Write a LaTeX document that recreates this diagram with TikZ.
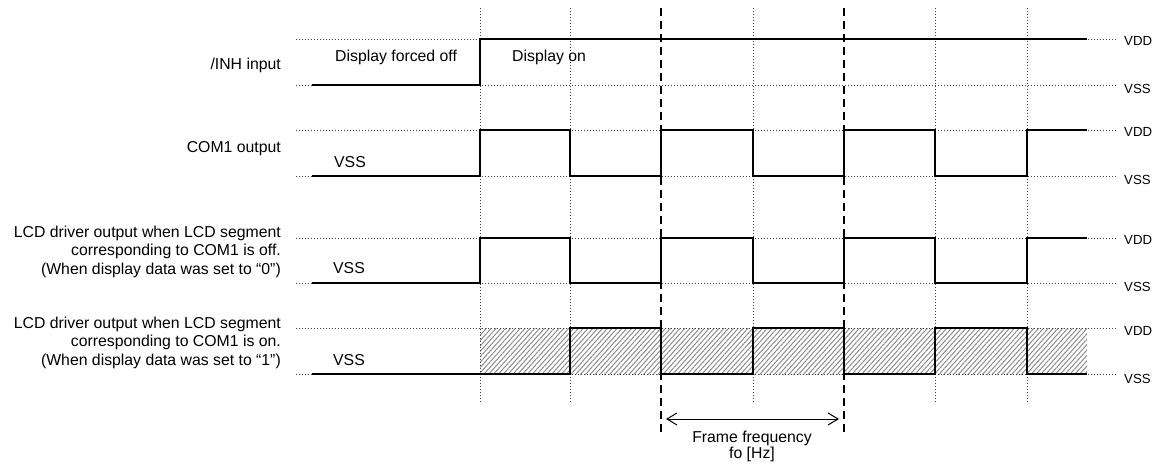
\documentclass[tikz,border=0pt]{standalone}
\usepackage{fontspec}
\setmainfont{Liberation Sans}
\usetikzlibrary{positioning, patterns.meta, arrows.meta}

\begin{document}
\begin{tikzpicture}[x=1pt, y=-1pt,
        grid/.style={line width=0.8pt, black!75, dash pattern=on 1pt off 2pt},
        frame/.style={line width=1.5pt, dash pattern=on 8pt off 5pt},
        wave/.style={line width=1.8pt, line join=miter},
        lbl/.style={inner sep=0pt, align=right, font=\fontsize{15.8}{18.5}\selectfont},
        txt/.style={inner sep=0pt, anchor=base west, font=\fontsize{15.8}{18.5}\selectfont},
        lvl/.style={inner sep=0pt, anchor=base west, font=\fontsize{13.2}{15}\selectfont}]
        \useasboundingbox (0,0) rectangle (1160,465);

        % Hatched area
        \fill[pattern={Lines[angle=48, distance=3.6pt, line width=1pt]}, pattern color=black!45]
                (480,328) rectangle (1087,374);

        % Levels
        \foreach \hi/\lo in {39/85, 130/176, 238/283, 328/374} {
                \draw[grid] (296,\hi) -- (1117,\hi);
                \draw[grid] (296,\lo) -- (1117,\lo);
                \node[lvl] (vdd\hi) at (1124,\hi+7) {VDD};
                \node[lvl] (vss\lo) at (1124,\lo+9) {VSS};
        }

        % Time marks
        \foreach \t in {480, 570, 753, 935, 1027}
                \draw[grid] (\t,8) -- (\t,402);
        \foreach \t in {661, 844}
                \draw[frame] (\t,8) -- (\t,435);

        % Waves
        \draw[wave] (312,85) -| (480,39) -- (1087,39);
        \foreach \y/\Y in {130/176, 238/283}
                \draw[wave] (312,\Y) -| (480,\y) -| (570,\Y) -| (661,\y) -| (753,\Y) -| (844,\y) -| (935,\Y) -| (1027,\y) -- (1087,\y);
        \draw[wave] (312,374) -| (570,328) -| (661,374) -| (753,328) -| (844,374) -| (935,328) -| (1027,374) -- (1087,374);

        % Signal names
        \node[lbl, anchor=base east] (inh) at (281,70) {/INH input};
        \node[lbl, anchor=base east] (com) at (281,153) {COM1 output};
        \node[lbl, anchor=north east] (segoff) at (281,225.5) {LCD driver output when LCD segment\\corresponding to COM1 is off.\\(When display data was set to “0”)};
        \node[lbl, anchor=north east] (segon) at (281,316.5) {LCD driver output when LCD segment\\corresponding to COM1 is on.\\(When display data was set to “1”)};

        % Texts on the waves
        \node[txt] (off) at (335,62) {Display forced off};
        \node[txt] (on) at (512,62) {Display on};
        \node[txt] (vsscom) at (334,168) {VSS};
        \node[txt] (vssoff) at (333,274) {VSS};
        \node[txt] (vsson) at (333,365) {VSS};

        % Frame
        \coordinate (fl) at (661,419);
        \coordinate (fr) at (844,419);
        \draw[{Straight Barb[length=10pt, width=12pt]}-{Straight Barb[length=10pt, width=12pt]}, line width=1pt, shorten <=5pt, shorten >=5pt] (fl) -- (fr);
        \node[lbl, align=center, anchor=north, font=\fontsize{15.8}{16.5}\selectfont] (freq) at (752,430.5) {Frame frequency\\fo [Hz]};
\end{tikzpicture}
\end{document}
